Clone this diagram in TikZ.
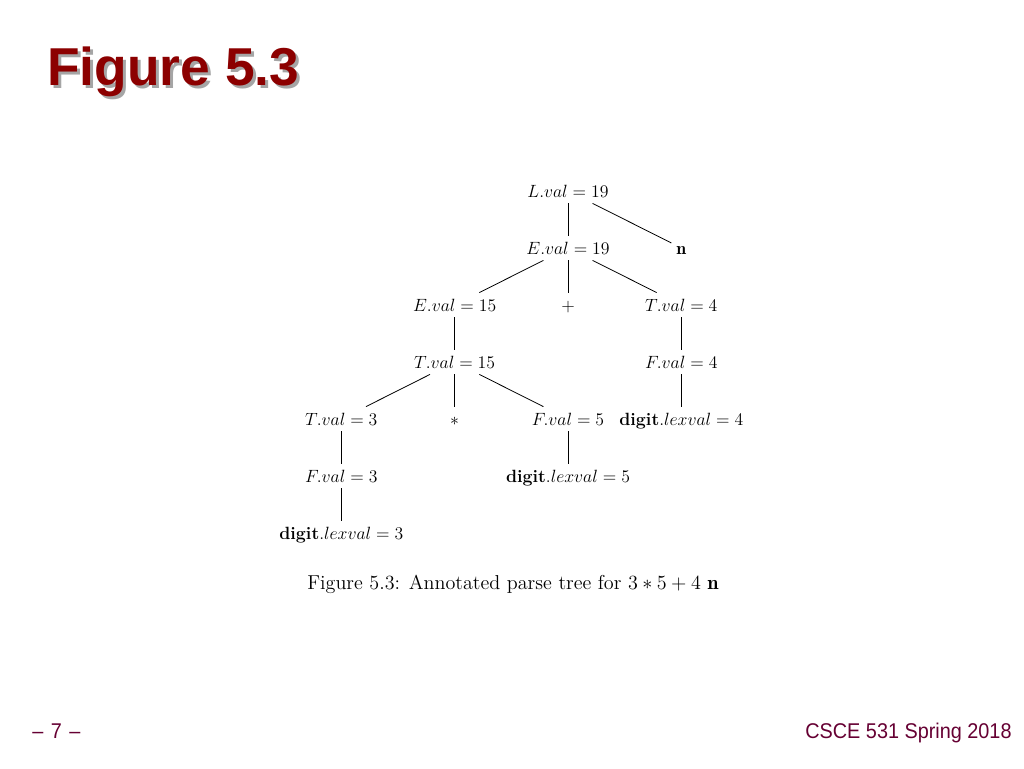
\documentclass[tikz,border=0pt]{standalone}
\usepackage{fix-cm}
\usepackage{amsmath}
\usepackage{amssymb}
\usepackage{fontspec}
\newfontfamily\slidefont{Liberation Sans}
\newfontfamily\footfont[FakeStretch=0.93]{Liberation Sans}
\newfontfamily\capfont{lmroman12-regular.otf}
\usetikzlibrary{trees}
\definecolor{titlered}{RGB}{140,0,0}
\definecolor{footred}{RGB}{102,0,51}
\definecolor{shadowgray}{RGB}{165,165,165}

\begin{document}
\begin{tikzpicture}[x=0.75pt, y=-0.75pt, line width=0.6pt,
level distance=42.75pt, sibling distance=85pt,
every node/.style={font=\fontsize{13.3}{16}\selectfont,
    text height=10pt, text depth=1pt, inner sep=3.5pt}]
\fill[white] (0,0) rectangle (1024,768);
\useasboundingbox (0,0) rectangle (1024,768);
% slide title with its shadow
\node [anchor=base west, inner sep=0pt, text=shadowgray,
    font=\slidefont\bfseries\fontsize{40}{44}\selectfont] (titleshadow) at (50,88) {Figure 5.3};
\node [anchor=base west, inner sep=0pt, text=titlered,
    font=\slidefont\bfseries\fontsize{40}{44}\selectfont] (title) at (47,85) {Figure 5.3};
% annotated parse tree
\node (lval) at (568,191) {$L.val = 19$}
child [missing]
child { node (eval19) {$E.val = 19$}
    child { node (eval15) {$E.val = 15$}
        child { node (tval15) {$T.val = 15$}
            child { node (tval3) {$T.val = 3$}
                child { node (fval3) {$F.val = 3$}
                    child { node (digit3) {$\textbf{digit}.lexval = 3$} } } }
            child { node (times) {$*$} }
            child { node (fval5) {$F.val = 5$}
                child { node (digit5) {$\textbf{digit}.lexval = 5$} } } } }
    child { node (plus) {$+$} }
    child { node (tval4) {$T.val = 4$}
        child { node (fval4) {$F.val = 4$}
            child { node (digit4) {$\textbf{digit}.lexval = 4$} } } } }
child { node (nend) {$\mathbf{n}$} };
\node [font=\capfont\fontsize{15.1}{18}\selectfont] (caption) at (513,583)
    {Figure 5.3: Annotated parse tree for $3*5+4$ $\mathbf{n}$};
% footer
\node [anchor=base west, inner sep=0pt, text=footred,
    font=\footfont\fontsize{16}{18}\selectfont] (pagenum) at (32,738) {–\hspace{1.5pt} 7 \hspace{1.5pt}–};
\node [anchor=base east, inner sep=0pt, text=footred,
    font=\footfont\fontsize{16}{18}\selectfont] (course) at (1012,738) {CSCE 531 Spring 2018};
\end{tikzpicture}
\end{document}
